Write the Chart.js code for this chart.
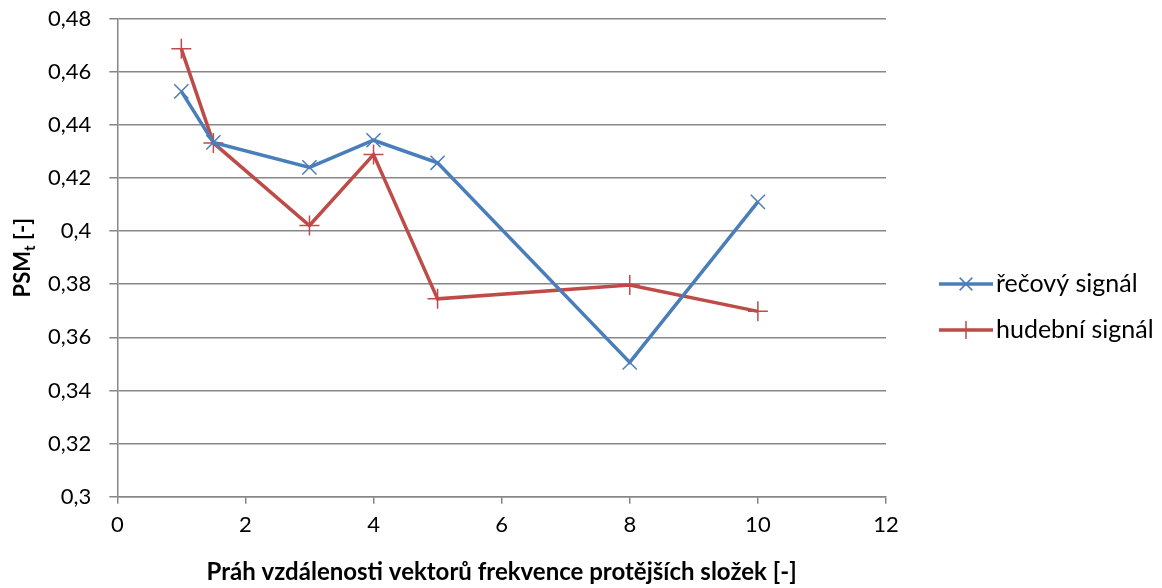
<!DOCTYPE html>
<html>
<head>
<meta charset="utf-8">
<script src="https://cdn.jsdelivr.net/npm/chart.js@4.4.0/dist/chart.umd.min.js"></script>
<style>
  html, body { margin: 0; padding: 0; background: #fff; }
  #wrap { width: 1162px; height: 588px; }
</style>
</head>
<body>
<div id="wrap"><canvas id="chart" width="1162" height="588"></canvas></div>
<script>
// values
const xValues = [1, 1.5, 3, 4, 5, 8, 10];
const speech = [0.4526, 0.4334, 0.4240, 0.4342, 0.4257, 0.3506, 0.4110];
const music = [0.4686, 0.4332, 0.4021, 0.4288, 0.3745, 0.3797, 0.3698];
const seriesNames = ['řečový signál', 'hudební signál'];
const xTicks = [0, 2, 4, 6, 8, 10, 12];
const yTicks = [0.3, 0.32, 0.34, 0.36, 0.38, 0.4, 0.42, 0.44, 0.46, 0.48];
const xTitle = 'Práh vzdálenosti vektorů frekvence protějších složek [-]';

const blue = '#4A7EBB';
const red = '#BE4B48';
const gridColor = '#878787';
const font = 'Lato, "Open Sans", sans-serif';

function comma(v) {
  return String(Math.round(v * 100) / 100).replace('.', ',');
}

function toPoints(ys) {
  return xValues.map((x, i) => ({ x: x, y: ys[i] }));
}

// y title with subscript t, and the legend with line + marker
const extras = {
  id: 'extras',
  afterDraw(chart) {
    const ctx = chart.ctx;
    const area = chart.chartArea;
    ctx.save();
    ctx.fillStyle = '#000';
    ctx.textBaseline = 'middle';

    // y axis title
    ctx.save();
    ctx.translate(23, (area.top + area.bottom) / 2);
    ctx.rotate(-Math.PI / 2);
    ctx.font = 'bold 22px ' + font;
    const a = 'PSM', b = 't', c = ' [-]';
    const wa = ctx.measureText(a).width;
    const wc = ctx.measureText(c).width;
    ctx.font = 'bold 15px ' + font;
    const wb = ctx.measureText(b).width;
    let x0 = -(wa + wb + wc) / 2;
    ctx.textAlign = 'left';
    ctx.font = 'bold 22px ' + font;
    ctx.fillText(a, x0, 0);
    ctx.font = 'bold 15px ' + font;
    ctx.fillText(b, x0 + wa, 7);
    ctx.font = 'bold 22px ' + font;
    ctx.fillText(c, x0 + wa + wb, 0);
    ctx.restore();

    // legend
    const rows = [
      { y: 284, color: blue, style: 'crossRot', name: seriesNames[0] },
      { y: 330, color: red, style: 'cross', name: seriesNames[1] }
    ];
    rows.forEach(r => {
      ctx.strokeStyle = r.color;
      ctx.lineWidth = 3.5;
      ctx.beginPath();
      ctx.moveTo(939, r.y);
      ctx.lineTo(993, r.y);
      ctx.stroke();
      ctx.lineWidth = 1.5;
      Chart.helpers.drawPoint(ctx, { pointStyle: r.style, radius: 9, borderWidth: 1.5 }, 966, r.y);
      ctx.fillStyle = '#000';
      ctx.font = '25px ' + font;
      ctx.textAlign = 'left';
      ctx.fillText(r.name, 996, r.y);
    });
    ctx.restore();
  }
};

new Chart(document.getElementById('chart'), {
  type: 'scatter',
  data: {
    datasets: [{
      label: seriesNames[0],
      data: toPoints(speech),
      showLine: true,
      borderColor: blue,
      backgroundColor: blue,
      borderWidth: 3.5,
      pointStyle: 'crossRot',
      pointRadius: 10,
      pointBorderWidth: 1.5,
      pointHoverRadius: 10
    }, {
      label: seriesNames[1],
      data: toPoints(music),
      showLine: true,
      borderColor: red,
      backgroundColor: red,
      borderWidth: 3.5,
      pointStyle: 'cross',
      pointRadius: 10,
      pointBorderWidth: 1.5,
      pointHoverRadius: 10
    }]
  },
  options: {
    responsive: false,
    animation: false,
    layout: { padding: { left: 30, right: 276, top: 5, bottom: 1 } },
    plugins: {
      legend: { display: false },
      tooltip: { enabled: false }
    },
    scales: {
      x: {
        type: 'linear',
        min: 0,
        max: 12,
        afterBuildTicks: axis => { axis.ticks = xTicks.map(v => ({ value: v })); },
        grid: { drawOnChartArea: false, color: gridColor, tickLength: 7, lineWidth: 1.5 },
        border: { color: gridColor, width: 1.5 },
        ticks: { color: '#000', font: { family: font, size: 22 }, padding: 8, maxRotation: 0 },
        title: {
          display: true,
          text: xTitle,
          color: '#000',
          font: { family: font, size: 24, weight: 'bold' },
          padding: { top: 12, bottom: 0 }
        }
      },
      y: {
        min: 0.3,
        max: 0.48,
        afterBuildTicks: axis => { axis.ticks = yTicks.map(v => ({ value: v })); },
        grid: { color: gridColor, tickLength: 8, lineWidth: 1.5 },
        border: { color: gridColor, width: 1.5 },
        ticks: {
          color: '#000',
          font: { family: font, size: 22, lineHeight: 0.05 },
          padding: 18,
          callback: v => comma(v)
        }
      }
    }
  },
  plugins: [extras]
});
</script>
</body>
</html>
